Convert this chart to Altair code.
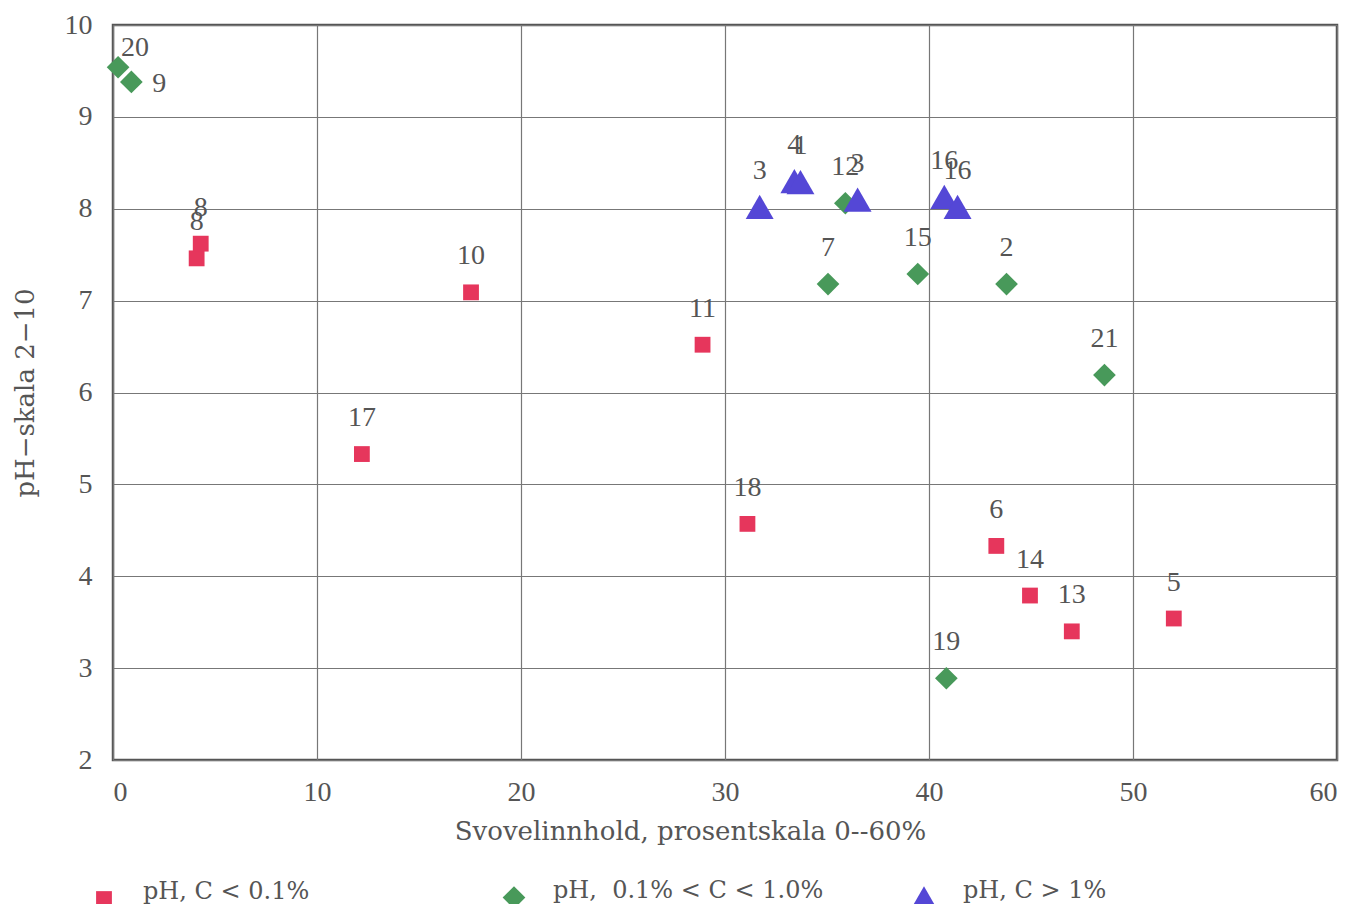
import altair as alt
import pandas as pd

# ---- data ----
red_ids = ["8", "8", "10", "11", "17", "18", "6", "14", "13", "5"]
red_x = [4.1, 4.3, 17.55, 28.9, 12.2, 31.1, 43.3, 44.95, 47.0, 52.0]
red_y = [7.46, 7.62, 7.09, 6.52, 5.33, 4.57, 4.33, 3.79, 3.40, 3.54]

green_ids = ["20", "9", "12", "7", "15", "2", "21", "19"]
green_x = [0.25, 0.9, 35.9, 35.05, 39.45, 43.8, 48.6, 40.85]
green_y = [9.54, 9.38, 8.06, 7.18, 7.29, 7.18, 6.19, 2.89]

blue_ids = ["3", "4", "1", "3", "16", "16"]
blue_x = [31.7, 33.4, 33.7, 36.5, 40.75, 41.4]
blue_y = [8.02, 8.30, 8.29, 8.10, 8.13, 8.02]

series_names = ["pH, C < 0.1%", "pH,\u00a0 0.1% < C < 1.0%", "pH, C > 1%"]
series_colors = ["#e6365c", "#48995a", "#5447d6"]
series_shapes = ["square", "diamond", "triangle-up"]
series_sizes = [250, 780, 280]

rows = []
for name, ids, xs, ys in zip(series_names,
                             [red_ids, green_ids, blue_ids],
                             [red_x, green_x, blue_x],
                             [red_y, green_y, blue_y]):
    for i, x, y in zip(ids, xs, ys):
        rows.append({"serie": name, "id": i, "x": x, "y": y})
df = pd.DataFrame(rows)

FONT = "Liberation Serif"
TFONT = "DejaVu Serif"
GREY = "#555555"

xs = alt.X("x:Q", scale=alt.Scale(domain=[0, 60], nice=False),
           axis=alt.Axis(values=[0, 10, 20, 30, 40, 50, 60], format="d",
                         title="Svovelinnhold, prosentskala 0--60%",
                         titleX=577, titlePadding=12, labelPadding=18))
ys = alt.Y("y:Q", scale=alt.Scale(domain=[2, 10], nice=False),
           axis=alt.Axis(values=[2, 3, 4, 5, 6, 7, 8, 9, 10], format="d",
                         title="pH\u2212skala 2\u221210",
                         titlePadding=26, labelPadding=21))

base = alt.Chart(df)

points = base.mark_point(filled=True, opacity=1).encode(
    x=xs, y=ys,
    color=alt.Color("serie:N", scale=alt.Scale(domain=series_names, range=series_colors),
                    legend=alt.Legend(title=None, orient="none", legendX=-24, legendY=858,
                                      direction="horizontal", columns=3, gridAlign="all",
                                      columnPadding=85, symbolSize=200, labelFontSize=24,
                                      labelFont=TFONT, labelColor=GREY, labelOffset=24,
                                      labelBaseline="alphabetic", labelLimit=600)),
    shape=alt.Shape("serie:N", scale=alt.Scale(domain=series_names, range=series_shapes)),
    size=alt.Size("serie:N", scale=alt.Scale(domain=series_names, range=series_sizes),
                  legend=None),
)

label_style = dict(font=FONT, fontSize=28, color=GREY)

labels_above = base.mark_text(dy=-36, **label_style).encode(
    x="x:Q", y="y:Q", text="id:N"
).transform_filter("datum.id != '9' && datum.id != '20'")

labels_right = base.mark_text(dx=28, dy=2, **label_style).encode(
    x="x:Q", y="y:Q", text="id:N"
).transform_filter("datum.id == '9'")

labels_upright = base.mark_text(dx=17, dy=-19, **label_style).encode(
    x="x:Q", y="y:Q", text="id:N"
).transform_filter("datum.id == '20'")

chart = alt.layer(points, labels_above, labels_right, labels_upright).properties(
    width=1224, height=735,
    autosize=alt.AutoSizeParams(type="none"),
    padding={"left": 105, "top": 17, "right": 26, "bottom": 144},
).configure_axis(
    grid=True, gridColor="#777777", gridWidth=1.2, gridOpacity=1,
    domain=False, ticks=False,
    labelFont=FONT, labelFontSize=28, labelColor=GREY,
    titleFont=TFONT, titleFontSize=26, titleColor=GREY, titleFontWeight="normal",
).configure_view(
    stroke="#555555", strokeWidth=2.5
)

chart.save("out.html", embed_options={"renderer": "svg", "actions": False})
